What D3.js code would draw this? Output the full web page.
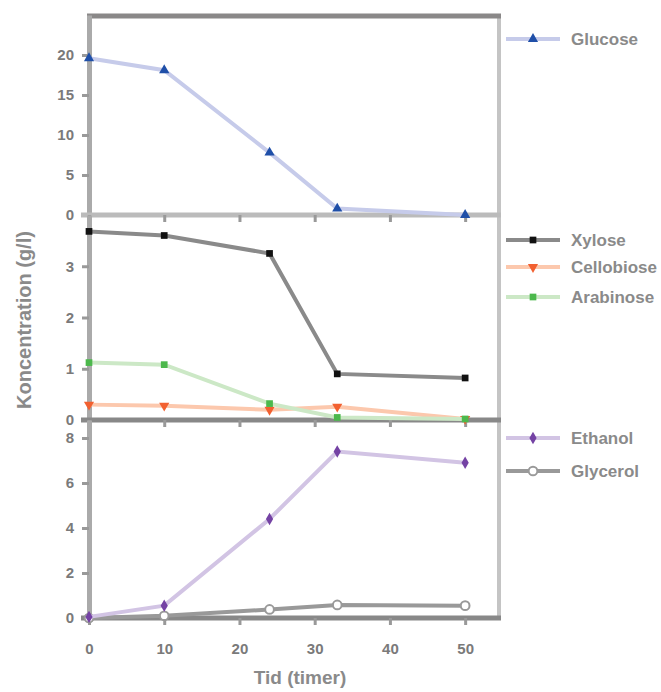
<!DOCTYPE html>
<html>
<head>
<meta charset="utf-8">
<script src="https://cdn.jsdelivr.net/npm/d3@7"></script>
<style>
  body { margin: 0; background: #fff; }
  text { font-family: "Liberation Sans", Arial, sans-serif; }
</style>
</head>
<body>
<svg width="661" height="692"></svg>
<script>
let hours = [0, 10, 24, 33, 50]

let glucose = [19.6, 18.1, 7.8, 0.8, 0]
let xylose = [3.68, 3.6, 3.25, 0.9, 0.82]
let cellobiose = [0.3, 0.28, 0.2, 0.26, 0.02]
let arabinose = [1.12, 1.08, 0.32, 0.05, 0.02]
let ethanol = [0.05, 0.55, 4.4, 7.4, 6.9]
let glycerol = [0, 0.1, 0.38, 0.58, 0.55]

let xTicks = [0, 10, 20, 30, 40, 50]
let panel1Ticks = [0, 5, 10, 15, 20]
let panel2Ticks = [0, 1, 2, 3]
let panel3Ticks = [0, 2, 4, 6, 8]

let svg = d3.select('svg')
let left = 89
let right = 499

let x = d3.scaleLinear().domain([0, 54.5]).range([left, right])

let panels = [
    { top: 15, bottom: 215, max: 25, ticks: panel1Ticks, baseColor: '#bbb',
      series: [
        { name: 'Glucose', values: glucose, line: '#c6cbea', mark: '#1f4fa8', shape: d3.symbolTriangle, legendY: 39 }
      ] },
    { top: 215, bottom: 420, max: 4, ticks: panel2Ticks, baseColor: '#888',
      series: [
        { name: 'Cellobiose', values: cellobiose, line: '#fcc8ad', mark: '#f26030', shape: d3.symbolTriangle, flip: true, legendY: 267 },
        { name: 'Arabinose', values: arabinose, line: '#cce8c6', mark: '#4cb84c', shape: d3.symbolSquare, legendY: 297 },
        { name: 'Xylose', values: xylose, line: '#8a8a8a', mark: '#111', shape: d3.symbolSquare, legendY: 240 }
      ] },
    { top: 420, bottom: 618, max: 8.8, ticks: panel3Ticks, baseColor: '#888',
      series: [
        { name: 'Glycerol', values: glycerol, line: '#999', mark: '#fff', stroke: '#999', shape: d3.symbolCircle, legendY: 471 },
        { name: 'Ethanol', values: ethanol, line: '#d2c4e4', mark: '#7442a4', shape: d3.symbolDiamond, legendY: 438 }
      ] }
]

let drawMarker = (g, s, px, py) => {
    g.append('path')
        .attr('d', d3.symbol().type(s.shape).size(s.shape === d3.symbolCircle ? 60 : 45)())
        .attr('transform', 'translate(' + px + ',' + py + ')' + (s.flip ? ' rotate(180)' : ''))
        .attr('fill', s.mark)
        .attr('stroke', s.stroke || 'none')
        .attr('stroke-width', 2)
}

// right border
svg.append('line')
    .attr('x1', right).attr('x2', right)
    .attr('y1', 15).attr('y2', 620)
    .attr('stroke', '#c4c4c4').attr('stroke-width', 4)

// top border
svg.append('line')
    .attr('x1', left - 2).attr('x2', right + 2)
    .attr('y1', 16).attr('y2', 16)
    .attr('stroke', '#8a8888').attr('stroke-width', 5)

panels.forEach((p) => {
    let y = d3.scaleLinear().domain([0, p.max]).range([p.bottom, p.top])

    let yAxis = svg.append('g')
        .attr('transform', 'translate(' + left + ',0)')
        .call(d3.axisLeft(y).tickValues(p.ticks).tickFormat(d3.format('d')).tickSize(7).tickPadding(8).tickSizeOuter(0))
    yAxis.select('.domain').attr('stroke', '#aaa').attr('stroke-width', 5)
    yAxis.selectAll('.tick line').attr('stroke', '#999').attr('stroke-width', 3)
    yAxis.selectAll('.tick text')
        .attr('fill', '#7a7a7a').style('font-size', '15px').style('font-weight', 'bold')

    // base line with downward ticks
    let xAxis = svg.append('g')
        .attr('transform', 'translate(0,' + p.bottom + ')')
        .call(d3.axisBottom(x).tickValues(xTicks).tickSize(7).tickSizeOuter(0).tickFormat(p.bottom === 618 ? d3.format('d') : ''))
    xAxis.select('.domain').attr('stroke', p.baseColor).attr('stroke-width', 5)
        .attr('d', 'M' + (left - 8) + ',0H' + (right + 2))
    xAxis.selectAll('.tick line').attr('stroke', '#999').attr('stroke-width', 3)
    xAxis.selectAll('.tick text')
        .attr('fill', '#7a7a7a').attr('dy', '1.7em').style('font-size', '15px').style('font-weight', 'bold')

    p.series.forEach((s) => {
        let line = d3.line()
            .x((d, i) => x(hours[i]))
            .y((d) => y(d))
        svg.append('path')
            .datum(s.values)
            .attr('d', line)
            .attr('fill', 'none')
            .attr('stroke', s.line)
            .attr('stroke-width', 4)

        let g = svg.append('g')
        s.values.forEach((v, i) => drawMarker(g, s, x(hours[i]), y(v)))

        // legend
        let lg = svg.append('g')
        lg.append('line')
            .attr('x1', 506).attr('x2', 560)
            .attr('y1', s.legendY).attr('y2', s.legendY)
            .attr('stroke', s.line).attr('stroke-width', 4)
        drawMarker(lg, s, 533, s.legendY)
        lg.append('text')
            .attr('x', 571).attr('y', s.legendY + 6)
            .attr('fill', '#8a8a8a')
            .style('font-size', '17px').style('font-weight', 'bold')
            .text(s.name)
    })
})

// axis titles
svg.append('text')
    .attr('x', 300).attr('y', 684)
    .attr('text-anchor', 'middle')
    .attr('fill', '#8a8a8a')
    .style('font-size', '19px').style('font-weight', 'bold')
    .text('Tid (timer)')

svg.append('text')
    .attr('transform', 'translate(31,320) rotate(-90)')
    .attr('text-anchor', 'middle')
    .attr('fill', '#8a8a8a')
    .style('font-size', '20px').style('font-weight', 'bold')
    .text('Koncentration (g/l)')
</script>
</body>
</html>
